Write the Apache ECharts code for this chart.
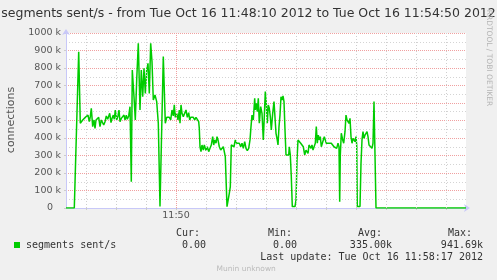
<!DOCTYPE html>
<html><head><meta charset="utf-8">
<script src="https://cdn.jsdelivr.net/npm/echarts@6/dist/echarts.min.js"></script>
<style>html,body{margin:0;padding:0;background:#f0f0f0;}#c{width:497px;height:280px;}</style>
</head><body><div id="c"></div>
<script>
// time = seconds since 11:48:00, value = segments sent/s in thousands
const times = [10,18.3,22.7,24.3,26.7,28.3,29.3,30.7,32,33.3,34.3,35.3,36.7,38,39,40,41.7,42.7,44,45.3,46.7,47.7,49,50.3,51.7,52.7,53.7,55,56,57.3,58.3,59.3,60.7,62,63,64,65.3,66.7,68,69,70.3,71.3,72.7,74,75.3,76.3,78,79.3,80.7,82.3,84,85.3,86.7,88,89.3,90.7,92,93.3,94.7,96,97.3,99,100.7,102.3,104,105.3,107.3,109.3,110.7,112,113.3,114.7,116,117.3,118.3,119.3,120.7,122,123.3,124,125,126,127.3,128.7,130,131.3,132.7,133.7,134.7,136,137.3,138.7,140,141.3,142.7,143.3,144,145,146,147.3,148.3,150,151.3,152.7,154,155.3,156.7,157.7,158.7,160,161,162,163.3,164.7,166,167.3,168.3,169.3,171,172.7,173.3,174.3,175.3,176.7,178,179.3,180.7,182,183.3,184.7,186,187.3,188.7,190,191.3,192.7,194,195,196,197.3,198.7,199.3,200.3,201.3,202.3,203.3,204.7,206,207.3,208.3,209.3,210.3,211.3,212.3,213.3,214.3,215.3,216.7,218,219,220,221,222,223,224,225,226,227,228,229,230,231.3,232.7,233.3,234.3,235.3,236.3,237.7,239,240,241,242,243.3,244.7,246,247.3,248.7,250,251,252,253,254,255,256,257,258,259.3,260.3,261.3,262.3,263.3,264.3,265.3,266.3,267.3,268.3,269.3,270.3,271.3,272.7,274,275.3,276.7,278,279.3,280.7,282,283,283.7,284.3,285.3,286.7,287.7,289,290,291,292,293,294,295,296,297,298,299,300,300.7,301.3,302.7,304,305,306,307,308,309,310,311,312,313,314,315,316,317,318,318.7,320,410];
const values = [0,0,893,484,503,493,518,507,531,493,522,570,465,503,455,503,493,518,465,503,512,474,493,526,507,518,541,488,512,531,507,560,503,526,560,493,512,518,531,503,531,507,526,579,150,789,636,503,731,941,560,789,636,798,655,789,827,655,941,836,617,646,608,484,8,8,865,484,518,512,518,503,560,526,589,518,541,503,560,484,589,541,522,531,560,518,545,503,518,507,518,503,518,507,493,455,350,322,360,331,360,328,350,322,341,360,408,360,389,370,408,389,350,331,341,350,341,293,8,8,84,122,360,370,350,389,370,360,370,350,370,341,379,341,328,341,389,465,531,503,627,560,598,550,627,484,579,541,389,522,665,598,484,589,570,522,446,541,608,617,427,398,360,465,531,636,617,640,608,446,303,312,303,350,303,179,8,18,8,46,274,389,379,370,379,350,303,331,341,312,360,350,341,360,331,328,370,465,370,417,389,408,350,360,389,408,417,370,379,370,360,370,360,350,360,341,370,350,36,303,427,389,370,436,531,503,512,484,512,408,370,398,408,379,408,360,8,0,8,255,389,436,398,417,408,436,408,360,350,350,341,370,608,617,0,0];
const yMin = 0, yMax = 1000, yStep = 100;
const xStart = 10, xEnd = 410;
const xGridTimes = [30,60,90,150,180,210,240,270,300,330,360,390];
const xMajorTimes = [120];
const xLabels = {120: '11:50'};
const titleText = 'segments sent/s - from Tue Oct 16 11:48:10 2012 to Tue Oct 16 11:54:50 2012';
const yName = 'connections';
const seriesName = 'segments sent/s';
const statHeads = ['Cur:', 'Min:', 'Avg:', 'Max:'];
const statValues = ['0.00', '0.00', '335.00k', '941.69k'];
const lastUpdate = 'Last update: Tue Oct 16 11:58:17 2012';
const footer = 'Munin unknown';
const sideText = 'RRDTOOL / TOBI OETIKER';

const pairs = times.map((t, i) => [t, values[i]]);
const mono = '"DejaVu Sans Mono", monospace';
const sans = '"DejaVu Sans", sans-serif';
const headX = [176, 268, 358, 448];
const valRight = [206, 297, 392, 483];

const graphic = [
  {type:'text', x:248.5, y:13.5, style:{text:titleText, fontFamily:sans, fontSize:12.5, fill:'#333', align:'center', verticalAlign:'middle'}},
  {type:'text', x:11, y:120, rotation:Math.PI/2, style:{text:yName, fontFamily:sans, fontSize:11, fill:'#555', align:'center', verticalAlign:'middle'}},
  {type:'text', x:489, y:58, rotation:-Math.PI/2, style:{text:sideText, fontFamily:sans, fontSize:7.5, fill:'#b4b4b4', align:'center', verticalAlign:'middle'}},
  {type:'rect', shape:{x:14, y:242, width:6, height:6}, style:{fill:'#00cc00'}},
  {type:'text', x:26, y:245, style:{text:seriesName, fontFamily:mono, fontSize:10, fill:'#333', align:'left', verticalAlign:'middle'}},
  {type:'text', x:483, y:257, style:{text:lastUpdate, fontFamily:mono, fontSize:10, fill:'#333', align:'right', verticalAlign:'middle'}},
  {type:'text', x:216.5, y:269, style:{text:footer, fontFamily:sans, fontSize:7.5, fill:'#bbb', align:'left', verticalAlign:'middle'}}
];
statHeads.forEach((h, i) => {
  graphic.push({type:'text', x:headX[i], y:233, style:{text:h, fontFamily:mono, fontSize:10, fill:'#333', align:'left', verticalAlign:'middle'}});
  graphic.push({type:'text', x:valRight[i], y:245, style:{text:statValues[i], fontFamily:mono, fontSize:10, fill:'#333', align:'right', verticalAlign:'middle'}});
});

const vLines = xGridTimes.map(t => ({xAxis:t, lineStyle:{color:'#cfcfcf', type:[1,2], width:1}}))
  .concat(xMajorTimes.map(t => ({xAxis:t, lineStyle:{color:'#f0a0a0', type:[1,1], width:1}})));

const chart = echarts.init(document.getElementById('c'), null, {renderer:'canvas'});
chart.setOption({
  animation:false,
  backgroundColor:'#f0f0f0',
  graphic: graphic,
  grid:{left:66, top:33, width:400, height:175, show:true, backgroundColor:'#fff', borderWidth:0},
  xAxis:{type:'value', min:xStart, max:xEnd,
    axisLine:{show:true, lineStyle:{color:'#c8c8f8'}, symbol:['none','arrow'], symbolSize:[6,6], symbolOffset:[0,4]},
    axisTick:{show:true, customValues:xGridTimes.concat(xMajorTimes), length:2, lineStyle:{color:'#ccc'}},
    axisLabel:{customValues:xMajorTimes, formatter:v => xLabels[v] || '', fontFamily:sans, fontSize:9.5, color:'#555', margin:3},
    splitLine:{show:false}},
  yAxis:{type:'value', min:yMin, max:yMax, interval:yStep,
    axisLine:{show:true, lineStyle:{color:'#c8c8f8'}, symbol:['none','arrow'], symbolSize:[6,6], symbolOffset:[0,4]},
    axisTick:{show:true, length:2, lineStyle:{color:'#ccc'}},
    axisLabel:{fontFamily:sans, fontSize:9.5, color:'#555', margin:5,
      formatter:v => v === 0 ? '{z|0}' : v + ' k',
      rich:{z:{fontFamily:sans, fontSize:9.5, color:'#555', padding:[0,8,0,0]}}},
    splitLine:{show:true, lineStyle:{color:'#f0a0a0', type:[1,1]}},
    minorTick:{show:false, splitNumber:2},
    minorSplitLine:{show:true, lineStyle:{color:'#d4d4d4', type:[1,2]}}},
  series:[
    {type:'line', data:[], silent:true, z:1,
      markLine:{silent:true, symbol:'none', label:{show:false}, animation:false, data:vLines}},
    {type:'line', name:seriesName, data:pairs, showSymbol:false, symbol:'none', z:3,
      lineStyle:{color:'#00cc00', width:1.5}}
  ]
});
</script></body></html>
